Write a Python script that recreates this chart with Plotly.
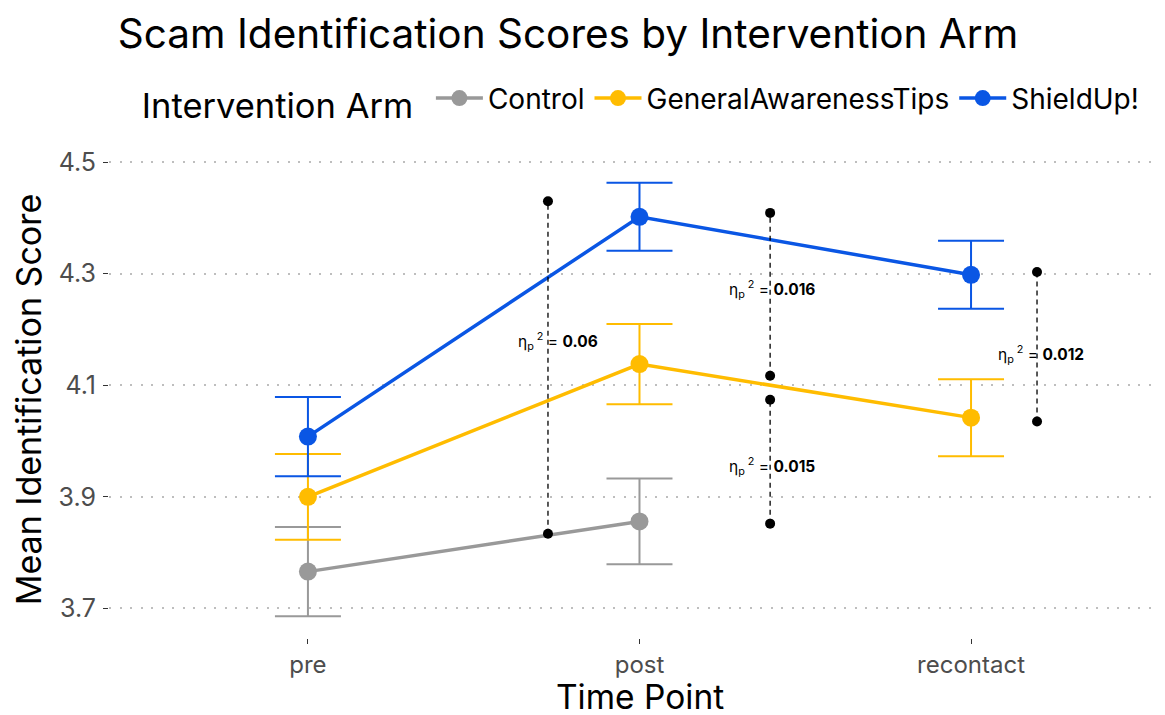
import plotly.graph_objects as go

time_points = ["pre", "post", "recontact"]
x_idx = [0, 1, 2]

control_mean = [3.766, 3.856]
control_err = [0.080, 0.077]
gat_mean = [3.900, 4.138, 4.042]
gat_err = [0.077, 0.072, 0.069]
shield_mean = [4.008, 4.402, 4.298]
shield_err = [0.071, 0.061, 0.061]

series_names = ["Control", "GeneralAwarenessTips", "ShieldUp!"]
series_colors = ["#999999", "#FFBC00", "#0A56E4"]

# effect-size annotations
ann_x = [0.724, 1.394, 1.394, 2.199]
ann_low = [3.834, 4.117, 3.852, 4.035]
ann_high = [4.430, 4.409, 4.074, 4.303]
ann_label_x = [0.754, 1.40, 1.40, 2.211]
ann_label_y = [4.18, 4.273, 3.956, 4.156]
ann_eta = ["0.06", "0.016", "0.015", "0.012"]

FONT = "Inter"

fig = go.Figure()

data = [
    (control_mean, control_err, x_idx[:2]),
    (gat_mean, gat_err, x_idx),
    (shield_mean, shield_err, x_idx),
]
for (m, e, xs), name, col in zip(data, series_names, series_colors):
    fig.add_trace(go.Scatter(
        x=xs, y=m, name=name, mode="lines+markers",
        line=dict(color=col, width=3.5),
        marker=dict(color=col, size=18),
        error_y=dict(type="data", array=e, visible=True, color=col,
                     thickness=2, width=33),
    ))

for xv, lo, hi in zip(ann_x, ann_low, ann_high):
    fig.add_trace(go.Scatter(
        x=[xv, xv], y=[lo, hi], mode="lines+markers", showlegend=False,
        line=dict(color="black", width=1.3, dash="5px,4px"),
        marker=dict(color="black", size=10),
        hoverinfo="skip",
    ))

for lx, ly, eta in zip(ann_label_x, ann_label_y, ann_eta):
    fig.add_annotation(
        x=lx, y=ly, xref="x", yref="y", showarrow=False,
        text=f"η<sub>p</sub><sup> 2</sup> = <b>{eta}</b>",
        font=dict(family=FONT, size=15.5, color="black"),
    )

# x-axis title
fig.add_annotation(
    x=0.503, y=-0.1235, xref="paper", yref="paper", showarrow=False,
    xanchor="center", yanchor="middle", text="Time Point",
    font=dict(family=FONT, size=33.5, color="black"),
)

fig.update_layout(
    width=1157, height=707,
    paper_bgcolor="white", plot_bgcolor="white",
    margin=dict(l=101, r=0, t=153, b=77, autoexpand=False),
    font=dict(family=FONT),
    title=dict(text="Scam Identification Scores by Intervention Arm",
               x=0.484, xanchor="center", y=0.9635, yanchor="middle",
               font=dict(family=FONT, size=40.5, color="black")),
    legend=dict(orientation="h", x=0.505, xanchor="center", y=1.126,
                yanchor="middle",
                title=dict(text="Intervention Arm ",
                           font=dict(family=FONT, size=34.5, color="black")),
                font=dict(family=FONT, size=28, color="black"),
                itemwidth=47),
    xaxis=dict(
        range=[-0.6, 2.585], tickmode="array", tickvals=x_idx,
        ticktext=time_points, showgrid=False, zeroline=False,
        ticks="outside", ticklen=5, tickcolor="#333333",
        automargin=False,
        tickfont=dict(family=FONT, size=24, color="#4D4D4D"),
    ),
    yaxis=dict(
        range=[3.647, 4.502], tickmode="array",
        tickvals=[3.7, 3.9, 4.1, 4.3, 4.5],
        ticktext=["3.7", "3.9", "4.1", "4.3", "4.5"],
        showgrid=True, gridcolor="#BEBEBE", gridwidth=2, griddash="2px,8.5px",
        zeroline=False, ticks="outside", ticklen=5, tickcolor="#333333",
        ticklabelstandoff=2,
        automargin=False,
        tickfont=dict(family=FONT, size=25, color="#4D4D4D"),
        title=dict(text="Mean Identification Score",
                   font=dict(family=FONT, size=34, color="black")),
    ),
)

fig.write_html("out.html")
